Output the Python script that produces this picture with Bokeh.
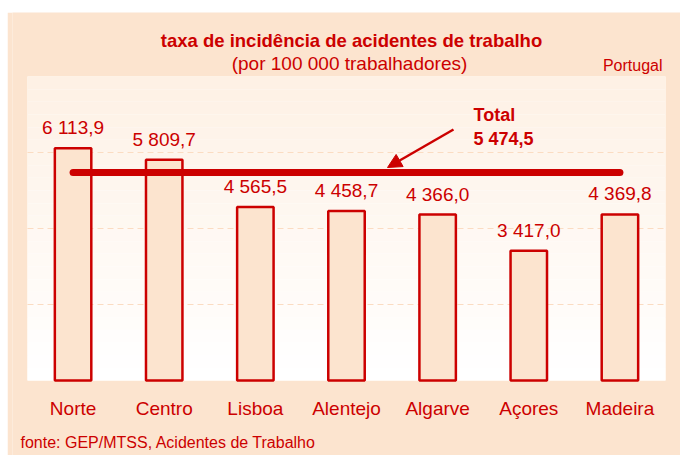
from bokeh.plotting import figure
from bokeh.models import (ColumnDataSource, Label, Arrow, NormalHead,
                          BoxAnnotation, Spacer, FactorRange)
from bokeh.layouts import column, row
from bokeh.core.properties import value
from bokeh.embed import file_html
from bokeh.resources import INLINE

# ---- data ----
regions = ["Norte", "Centro", "Lisboa", "Alentejo", "Algarve", "Açores", "Madeira"]
rates = [6113.9, 5809.7, 4565.5, 4458.7, 4366.0, 3417.0, 4369.8]
total_rate = 5474.5
grid_values = [2000, 4000, 6000]
y_max = 8000

title_text = "taxa de incidência de acidentes de trabalho"
subtitle_text = "(por 100 000 trabalhadores)"
region_text = "Portugal"
source_text = "fonte: GEP/MTSS, Acidentes de Trabalho"
total_text = "Total"


def fmt(v):
    return f"{v:,.1f}".replace(",", " ").replace(".", ",")


RED = "#cc0000"
PEACH = "#fce4cf"
FONT = "Liberation Sans"

# page geometry (window pixels)
OX, OY = 7, 12            # where the peach card starts
W, H = 673, 443           # card size
PL, PR = 27, 665          # plot area left/right
PT, PB = 76, 380          # plot area top/bottom (y = y_max / 0)
n = len(regions)
xpp = n / (PR - PL)       # data units per px along x
upp = y_max / (PB - PT)   # data units per px along y


def dx(wx):
    return (wx - PL) * xpp


def dy(wy):
    return (PB - wy) * upp


p = figure(x_range=FactorRange(*regions, range_padding=(PL - OX - 5) * xpp,
                               range_padding_units="absolute"),
           y_range=(dy(OY + H), dy(OY)), width=W, height=H,
           output_backend="svg", toolbar_location=None,
           x_axis_location=None, y_axis_location=None,
           min_border_left=5, min_border_right=0, min_border_top=0, min_border_bottom=0,
           border_fill_color=PEACH, background_fill_color=PEACH)
p.outline_line_color = None
p.xgrid.visible = False
p.ygrid.visible = False

# white plot area with a subtle peach tint fading downward
p.add_layout(BoxAnnotation(left=0, right=n, bottom=0, top=y_max, fill_color="#ffffff",
                           fill_alpha=1, line_color=None, level="image"))
nb = 24
top_c = (0xFE, 0xF1, 0xE5)
for i in range(nb):
    t = i / (nb - 1)
    c = tuple(int(round(top_c[k] + (255 - top_c[k]) * t)) for k in range(3))
    p.add_layout(BoxAnnotation(left=0, right=n, top=y_max - i * y_max / nb,
                               bottom=y_max - (i + 1) * y_max / nb,
                               fill_color="#%02x%02x%02x" % c, fill_alpha=1,
                               line_color=None, level="image"))

# dashed gridlines
p.segment(x0=[0] * len(grid_values), x1=[n] * len(grid_values), y0=grid_values,
          y1=grid_values, line_color="#fbdcc2", line_dash="6 4", line_width=1)

# bars and value labels
src = ColumnDataSource(dict(x=regions, top=rates, lab=[fmt(v) for v in rates]))
p.vbar(x="x", top="top", width=0.4, source=src, fill_color=PEACH,
       line_color=RED, line_width=2.5)
p.text(x="x", y="top", text="lab", source=src, text_align="center",
       text_baseline="bottom", y_offset=-10, text_color=RED,
       text_font=value(FONT), text_font_size="19px")

# category labels
p.text(x=regions, y=[dy(408)] * n, text=regions, text_align="center",
       text_baseline="middle", text_color=RED, text_font=value(FONT),
       text_font_size="19px")

# total line
p.line(x=[regions[0], regions[-1]], y=[total_rate, total_rate], line_color=RED,
       line_width=7, line_cap="round")

# arrow + total label
p.add_layout(Arrow(end=NormalHead(size=14, fill_color=RED, line_color=RED),
                   x_start=dx(453), y_start=dy(129), x_end=dx(387), y_end=dy(167),
                   line_color=RED, line_width=2.5))


def lab(xw, yw, text, size, bold=False, align="center"):
    p.add_layout(Label(x=dx(xw), y=dy(yw), text=text, text_font=FONT,
                       text_font_size=size, text_font_style="bold" if bold else "normal",
                       text_color=RED, text_align=align, text_baseline="middle"))


lab(473, 114, total_text, "18px", bold=True, align="left")
lab(473, 138, fmt(total_rate), "18px", bold=True, align="left")
lab(351, 40, title_text, "18.5px", bold=True)
lab(349, 63, subtitle_text, "19px")
lab(662, 65, region_text, "16px", align="right")
lab(20, 442, source_text, "16px", align="left")

layout = column(Spacer(height=OY), row(Spacer(width=OX), p), spacing=0)
open("out.html", "w").write(file_html(layout, INLINE))
